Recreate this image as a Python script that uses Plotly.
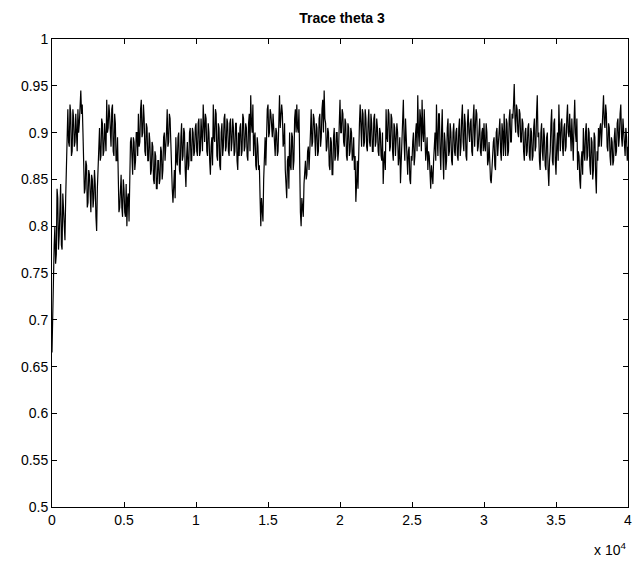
import plotly.graph_objects as go

# MCMC trace of theta 3.
# theta3_main: values at iterations 0, 100, 200, ... 40000
# theta3_mid:  values at iterations 50, 150, 250, ... 39950
step = 100
theta3_main = [
    # 0 - 9900
    0.665, 0.74, 0.80, 0.77, 0.83, 0.79, 0.845, 0.775, 0.82, 0.785,
    0.87, 0.925, 0.885, 0.92, 0.88, 0.915, 0.89, 0.905, 0.925, 0.91,
    0.945, 0.93, 0.86, 0.84, 0.865, 0.825, 0.855, 0.815, 0.85, 0.83,
    0.845, 0.795, 0.86, 0.905, 0.875, 0.91, 0.88, 0.9, 0.935, 0.905,
    0.92, 0.885, 0.93, 0.875, 0.91, 0.87, 0.845, 0.82, 0.855, 0.81,
    0.84, 0.81, 0.80, 0.835, 0.86, 0.895, 0.855, 0.89, 0.87, 0.9,
    0.92, 0.89, 0.935, 0.9, 0.915, 0.875, 0.905, 0.87, 0.89, 0.86,
    0.885, 0.845, 0.875, 0.84, 0.87, 0.85, 0.88, 0.86, 0.9, 0.88,
    0.925, 0.89, 0.915, 0.87, 0.825, 0.86, 0.895, 0.865, 0.9, 0.855,
    0.91, 0.875, 0.9, 0.842, 0.89, 0.865, 0.905, 0.87, 0.9, 0.88,
    # 10000 - 19900
    0.91, 0.875, 0.915, 0.88, 0.9, 0.93, 0.89, 0.915, 0.875, 0.9,
    0.855, 0.895, 0.93, 0.89, 0.92, 0.87, 0.905, 0.86, 0.91, 0.885,
    0.92, 0.885, 0.91, 0.875, 0.915, 0.89, 0.905, 0.88, 0.91, 0.86,
    0.875, 0.91, 0.88, 0.915, 0.885, 0.905, 0.87, 0.92, 0.94, 0.9,
    0.875, 0.9, 0.86, 0.885, 0.865, 0.8, 0.82, 0.85, 0.895, 0.91,
    0.93, 0.9, 0.92, 0.895, 0.905, 0.875, 0.9, 0.88, 0.94, 0.915,
    0.92, 0.89, 0.86, 0.83, 0.875, 0.9, 0.86, 0.895, 0.87, 0.925,
    0.93, 0.9, 0.845, 0.80, 0.82, 0.845, 0.87, 0.855, 0.885, 0.875,
    0.925, 0.89, 0.915, 0.875, 0.905, 0.88, 0.92, 0.895, 0.935, 0.945,
    0.91, 0.885, 0.9, 0.86, 0.89, 0.855, 0.905, 0.875, 0.9, 0.88,
    # 20000 - 29900
    0.935, 0.9, 0.92, 0.885, 0.91, 0.87, 0.905, 0.88, 0.9, 0.875,
    0.86, 0.826, 0.87, 0.895, 0.93, 0.885, 0.92, 0.89, 0.915, 0.88,
    0.925, 0.885, 0.91, 0.88, 0.92, 0.89, 0.905, 0.875, 0.9, 0.87,
    0.845, 0.88, 0.925, 0.89, 0.92, 0.885, 0.915, 0.87, 0.905, 0.89,
    0.9, 0.875, 0.846, 0.88, 0.935, 0.87, 0.895, 0.855, 0.885, 0.845,
    0.87, 0.9, 0.875, 0.91, 0.94, 0.885, 0.915, 0.935, 0.89, 0.9,
    0.88, 0.86, 0.875, 0.84, 0.855, 0.87, 0.9, 0.93, 0.875, 0.92,
    0.86, 0.925, 0.85, 0.89, 0.87, 0.915, 0.88, 0.9, 0.865, 0.91,
    0.875, 0.905, 0.87, 0.915, 0.885, 0.93, 0.88, 0.91, 0.87, 0.925,
    0.89, 0.915, 0.875, 0.93, 0.9, 0.92, 0.885, 0.915, 0.875, 0.905,
    # 30000 - 39900
    0.91, 0.88, 0.9, 0.87, 0.86, 0.846, 0.875, 0.895, 0.86, 0.905,
    0.885, 0.915, 0.87, 0.9, 0.92, 0.875, 0.91, 0.88, 0.925, 0.89,
    0.915, 0.952, 0.9, 0.925, 0.895, 0.92, 0.89, 0.91, 0.87, 0.905,
    0.88, 0.91, 0.87, 0.9, 0.875, 0.915, 0.885, 0.94, 0.9, 0.86,
    0.91, 0.87, 0.895, 0.86, 0.9, 0.843, 0.88, 0.925, 0.865, 0.915,
    0.855, 0.9, 0.93, 0.88, 0.915, 0.875, 0.91, 0.885, 0.93, 0.895,
    0.9, 0.915, 0.87, 0.935, 0.89, 0.86, 0.875, 0.84, 0.88, 0.905,
    0.87, 0.91, 0.875, 0.9, 0.855, 0.89, 0.86, 0.895, 0.835, 0.87,
    0.885, 0.91, 0.9, 0.94, 0.905, 0.92, 0.88, 0.905, 0.865, 0.89,
    0.87, 0.905, 0.88, 0.915, 0.895, 0.93, 0.885, 0.9, 0.875, 0.895,
    # 40000
    0.885,
]
theta3_mid = [
    # 50 - 9950
    0.72, 0.78, 0.76, 0.84, 0.775, 0.83, 0.78, 0.835, 0.79, 0.83,
    0.905, 0.89, 0.93, 0.875, 0.925, 0.885, 0.92, 0.88, 0.9, 0.935,
    0.92, 0.9, 0.835, 0.87, 0.82, 0.86, 0.82, 0.855, 0.82, 0.86,
    0.81, 0.84, 0.885, 0.87, 0.915, 0.875, 0.91, 0.88, 0.9, 0.93,
    0.89, 0.925, 0.88, 0.92, 0.87, 0.895, 0.815, 0.85, 0.82, 0.85,
    0.815, 0.845, 0.83, 0.805, 0.89, 0.855, 0.895, 0.86, 0.9, 0.875,
    0.885, 0.925, 0.895, 0.93, 0.88, 0.91, 0.87, 0.9, 0.855, 0.89,
    0.85, 0.88, 0.84, 0.87, 0.845, 0.885, 0.85, 0.895, 0.87, 0.9,
    0.885, 0.92, 0.88, 0.84, 0.86, 0.83, 0.87, 0.895, 0.86, 0.895,
    0.87, 0.905, 0.86, 0.875, 0.86, 0.9, 0.87, 0.905, 0.875, 0.905,
    # 10050 - 19950
    0.88, 0.91, 0.875, 0.915, 0.88, 0.9, 0.92, 0.88, 0.91, 0.87,
    0.885, 0.865, 0.895, 0.925, 0.875, 0.91, 0.865, 0.9, 0.875, 0.915,
    0.88, 0.915, 0.88, 0.91, 0.88, 0.915, 0.875, 0.91, 0.87, 0.9,
    0.905, 0.875, 0.92, 0.88, 0.91, 0.875, 0.91, 0.88, 0.91, 0.93,
    0.895, 0.865, 0.895, 0.86, 0.83, 0.83, 0.805, 0.88, 0.865, 0.925,
    0.895, 0.925, 0.9, 0.92, 0.88, 0.905, 0.875, 0.91, 0.905, 0.93,
    0.885, 0.91, 0.835, 0.87, 0.84, 0.865, 0.9, 0.86, 0.915, 0.9,
    0.905, 0.925, 0.815, 0.83, 0.81, 0.87, 0.85, 0.88, 0.86, 0.9,
    0.885, 0.92, 0.88, 0.91, 0.875, 0.915, 0.885, 0.925, 0.9, 0.915,
    0.88, 0.905, 0.865, 0.895, 0.855, 0.895, 0.87, 0.9, 0.87, 0.91,
    # 20050 - 29950
    0.9, 0.925, 0.89, 0.915, 0.875, 0.91, 0.875, 0.905, 0.87, 0.895,
    0.875, 0.845, 0.84, 0.91, 0.895, 0.925, 0.885, 0.925, 0.885, 0.91,
    0.89, 0.92, 0.88, 0.915, 0.885, 0.915, 0.88, 0.905, 0.875, 0.9,
    0.87, 0.86, 0.895, 0.925, 0.88, 0.92, 0.88, 0.91, 0.875, 0.91,
    0.865, 0.895, 0.87, 0.91, 0.89, 0.915, 0.86, 0.88, 0.85, 0.875,
    0.89, 0.865, 0.9, 0.88, 0.9, 0.925, 0.88, 0.9, 0.925, 0.87,
    0.895, 0.88, 0.85, 0.865, 0.845, 0.89, 0.87, 0.895, 0.92, 0.88,
    0.9, 0.875, 0.9, 0.86, 0.905, 0.875, 0.91, 0.87, 0.9, 0.88,
    0.9, 0.875, 0.905, 0.875, 0.915, 0.89, 0.92, 0.875, 0.91, 0.9,
    0.91, 0.88, 0.915, 0.885, 0.925, 0.88, 0.91, 0.88, 0.9, 0.88,
    # 30050 - 39950
    0.885, 0.91, 0.865, 0.89, 0.85, 0.87, 0.89, 0.865, 0.9, 0.875,
    0.905, 0.88, 0.91, 0.875, 0.89, 0.915, 0.875, 0.915, 0.89, 0.92,
    0.93, 0.915, 0.93, 0.9, 0.925, 0.89, 0.915, 0.88, 0.9, 0.875,
    0.905, 0.875, 0.905, 0.87, 0.905, 0.88, 0.92, 0.895, 0.87, 0.9,
    0.88, 0.905, 0.865, 0.895, 0.86, 0.87, 0.91, 0.87, 0.91, 0.87,
    0.885, 0.87, 0.9, 0.91, 0.885, 0.905, 0.88, 0.915, 0.9, 0.92,
    0.88, 0.895, 0.91, 0.9, 0.915, 0.88, 0.85, 0.87, 0.855, 0.88,
    0.9, 0.87, 0.905, 0.865, 0.895, 0.85, 0.9, 0.855, 0.88, 0.905,
    0.905, 0.885, 0.925, 0.91, 0.93, 0.885, 0.91, 0.875, 0.895, 0.865,
    0.895, 0.875, 0.91, 0.885, 0.92, 0.895, 0.915, 0.88, 0.905, 0.87,
]

iterations = []
theta3 = []
for i, v in enumerate(theta3_main):
    iterations.append(i * step)
    theta3.append(v)
    if i < len(theta3_mid):
        iterations.append(i * step + step // 2)
        theta3.append(theta3_mid[i])

x_tick_vals = [0, 5000, 10000, 15000, 20000, 25000, 30000, 35000, 40000]
x_tick_text = ["0", "0.5", "1", "1.5", "2", "2.5", "3", "3.5", "4"]
y_tick_vals = [0.5, 0.55, 0.6, 0.65, 0.7, 0.75, 0.8, 0.85, 0.9, 0.95, 1.0]
y_tick_text = ["0.5", "0.55", "0.6", "0.65", "0.7", "0.75", "0.8", "0.85", "0.9", "0.95", "1"]

fig = go.Figure()
fig.add_trace(go.Scatter(
    x=iterations, y=theta3, mode="lines",
    line=dict(color="black", width=1.2),
    showlegend=False, hoverinfo="skip",
))

axis_common = dict(
    showline=True, linecolor="black", linewidth=1, mirror="allticks",
    ticks="inside", ticklen=5, tickcolor="black", tickwidth=1,
    showgrid=False, zeroline=False,
    tickfont=dict(family="Liberation Sans, Arial, sans-serif", size=14, color="black"),
)

fig.update_layout(
    width=643, height=569,
    margin=dict(l=52, r=11, t=39, b=62),
    paper_bgcolor="white", plot_bgcolor="white",
    title=dict(
        text="<b>Trace theta 3</b>", x=(52 + 580 / 2) / 643, xanchor="center",
        y=1 - 18 / 569, yanchor="middle",
        font=dict(family="Liberation Sans, Arial, sans-serif", size=14, color="black"),
    ),
    xaxis=dict(range=[0, 40000], tickvals=x_tick_vals, ticktext=x_tick_text, **axis_common),
    yaxis=dict(range=[0.5, 1.0], tickvals=y_tick_vals, ticktext=y_tick_text, **axis_common),
    annotations=[dict(
        text="x 10<sup>4</sup>", xref="paper", yref="paper",
        x=1.0, y=(507 - 549) / 468, xanchor="right", yanchor="middle",
        showarrow=False,
        font=dict(family="Liberation Sans, Arial, sans-serif", size=14, color="black"),
    )],
)

fig.write_html("out.html")
